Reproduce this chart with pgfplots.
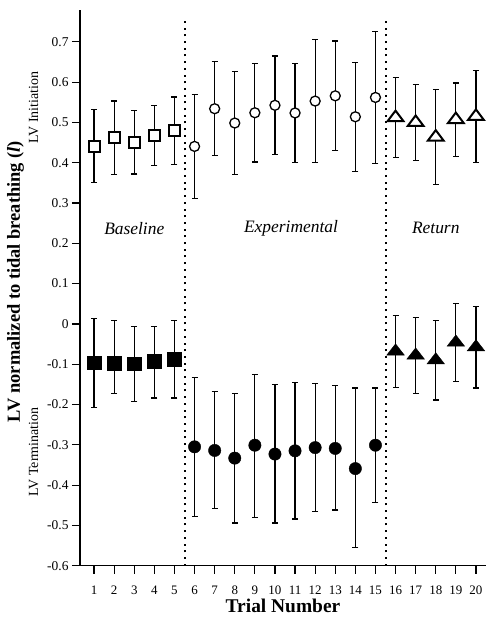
\documentclass[border=0pt]{standalone}
\usepackage{fontspec}
\setmainfont{Liberation Serif}
\usepackage{pgfplots}
\pgfplotsset{compat=1.18}
\usepackage{pgfplotstable}

% trial, mean, error up, error down
\pgfplotstableread{
x y ep em
1 0.4415 0.0915 0.0915
2 0.4615 0.0915 0.0915
3 0.451 0.079 0.079
4 0.468 0.075 0.075
5 0.4795 0.0835 0.0835
}\basei
\pgfplotstableread{
x y ep em
6 0.4405 0.1295 0.1295
7 0.534 0.117 0.117
8 0.4985 0.1285 0.1285
9 0.524 0.122 0.122
10 0.5425 0.1225 0.1225
11 0.5235 0.1225 0.1225
12 0.553 0.152 0.152
13 0.566 0.136 0.136
14 0.514 0.135 0.135
15 0.562 0.164 0.164
}\expi
\pgfplotstableread{
x y ep em
16 0.512 0.099 0.099
17 0.500 0.094 0.094
18 0.4635 0.1175 0.1175
19 0.507 0.091 0.091
20 0.515 0.114 0.114
}\reti
\pgfplotstableread{
x y ep em
1 -0.096 0.110 0.111
2 -0.098 0.107 0.074
3 -0.099 0.092 0.093
4 -0.092 0.085 0.092
5 -0.087 0.096 0.097
}\baset
\pgfplotstableread{
x y ep em
6 -0.305 0.173 0.173
7 -0.314 0.147 0.145
8 -0.333 0.161 0.161
9 -0.301 0.176 0.180
10 -0.323 0.173 0.171
11 -0.315 0.170 0.169
12 -0.307 0.159 0.158
13 -0.309 0.156 0.153
14 -0.359 0.200 0.196
15 -0.301 0.142 0.142
}\expt
\pgfplotstableread{
x y ep em
16 -0.068 0.089 0.089
17 -0.078 0.094 0.094
18 -0.090 0.099 0.099
19 -0.046 0.097 0.097
20 -0.0575 0.1015 0.1015
}\rett

\begin{document}
\begin{tikzpicture}
\begin{axis}[
    width=406bp, height=555.7bp,
    scale only axis,
    xmin=0.3, xmax=20.5,
    ymin=-0.6, ymax=0.779,
    axis x line*=bottom,
    axis y line*=left,
    axis line style={line width=1.2bp, -},
    tick align=outside,
    major tick length=8bp,
    every tick/.style={black, line width=1.2bp},
    xtick={1,2,...,20},
    ytick={-0.6,-0.5,-0.4,-0.3,-0.2,-0.1,0,0.1,0.2,0.3,0.4,0.5,0.6,0.7},
    /pgf/number format/assume math mode=true,
    yticklabel={\fontsize{13.5}{15}\selectfont\pgfmathprintnumber[fixed,precision=1]{\tick}},
    xticklabel={\fontsize{13}{15}\selectfont\pgfmathprintnumber[fixed,precision=0]{\tick}},
    xticklabel style={yshift=-9bp},
    xlabel={\textbf{Trial Number}},
    xlabel style={font=\fontsize{19.5}{22}\selectfont, inner sep=1bp, yshift=0bp},
    clip=false,
    error bars/y dir=both,
    error bars/y explicit,
    error bars/error bar style={line width=1.2bp, black},
    error bars/error mark options={rotate=90, mark size=3bp, line width=1.2bp, black},
]
% phase separators
\addplot[black, line width=2bp, dash pattern=on 2bp off 4.7bp] coordinates {(5.5,-0.6) (5.5,0.755)};
\addplot[black, line width=2bp, dash pattern=on 2bp off 4.7bp] coordinates {(15.5,-0.6) (15.5,0.755)};

\addplot[only marks, mark=square*, mark size=5.5bp,
    mark options={fill=white, draw=black, line width=2bp}]
    table[x=x, y=y, y error plus=ep, y error minus=em]{\basei};
\addplot[only marks, mark=*, mark size=5bp,
    mark options={fill=white, draw=black, line width=1.3bp}]
    table[x=x, y=y, y error plus=ep, y error minus=em]{\expi};
\addplot[only marks, mark=triangle*, mark size=7bp,
    mark options={fill=white, draw=black, line width=2bp, xscale=1.3}]
    table[x=x, y=y, y error plus=ep, y error minus=em]{\reti};
\addplot[only marks, mark=square*, mark size=6.8bp,
    mark options={fill=black, draw=black, line width=0.5bp}]
    table[x=x, y=y, y error plus=ep, y error minus=em]{\baset};
\addplot[only marks, mark=*, mark size=6.2bp,
    mark options={fill=black, draw=black}]
    table[x=x, y=y, y error plus=ep, y error minus=em]{\expt};
\addplot[only marks, mark=triangle*, mark size=7.5bp,
    mark options={fill=black, draw=black, xscale=1.35}]
    table[x=x, y=y, y error plus=ep, y error minus=em]{\rett};

\node[font=\fontsize{17.5}{20}\selectfont\itshape] at (axis cs:3,0.237) {Baseline};
\node[font=\fontsize{17.5}{20}\selectfont\itshape] at (axis cs:10.8,0.237) {Experimental};
\node[font=\fontsize{17.5}{20}\selectfont\itshape] at (axis cs:18,0.238) {Return};

\coordinate (bl) at (rel axis cs:0,0);
\end{axis}
\node[rotate=90, font=\fontsize{18.5}{22}\selectfont\bfseries]
    at ([shift={(-64.5bp,284.2bp)}]bl) {LV normalized to tidal breathing (\textit{l})};
\node[rotate=90, font=\fontsize{14}{16}\selectfont]
    at ([shift={(-46.5bp,458.2bp)}]bl) {LV Initiation};
\node[rotate=90, font=\fontsize{14}{16}\selectfont]
    at ([shift={(-46.5bp,113.7bp)}]bl) {LV Termination};
\pgfresetboundingbox
\path[use as bounding box] ([shift={(-80bp,-52.3bp)}]bl) rectangle ([shift={(406bp,565.7bp)}]bl);
\end{tikzpicture}
\end{document}
